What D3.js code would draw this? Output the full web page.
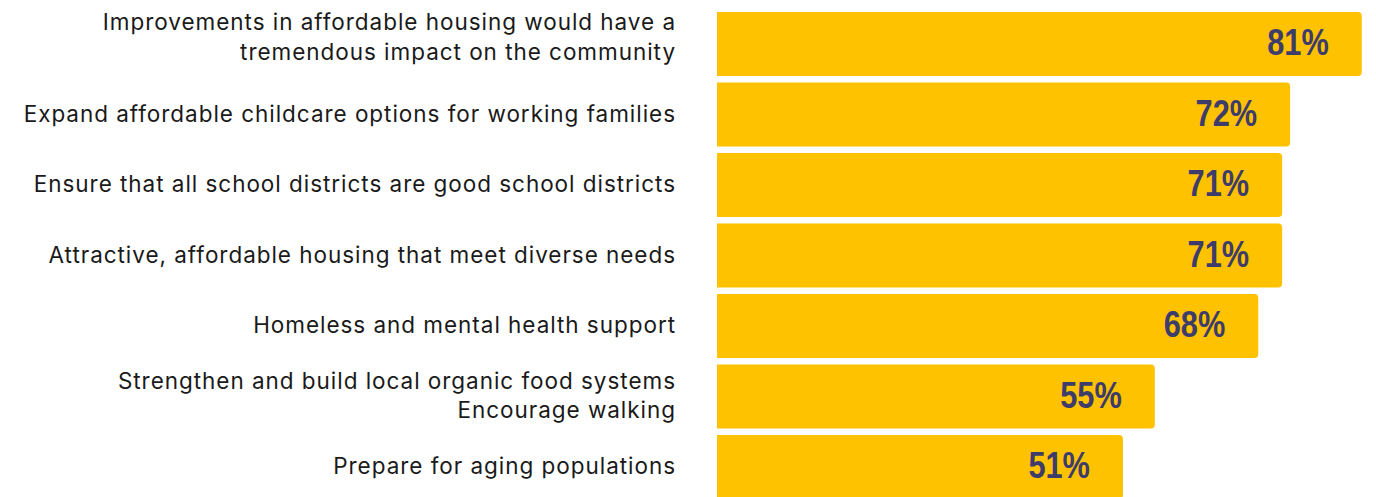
<!DOCTYPE html>
<html>
<head>
<meta charset="utf-8">
<script src="https://cdn.jsdelivr.net/npm/d3@7"></script>
<style>
  html, body { margin: 0; padding: 0; background: #fff; }
  svg { display: block; }
</style>
</head>
<body>
<svg width="1376" height="497"></svg>
<script>
// survey answers, top to bottom
let categories = [
  ["Improvements in affordable housing would have a", "tremendous impact on the community"],
  ["Expand affordable childcare options for working families"],
  ["Ensure that all school districts are good school districts"],
  ["Attractive, affordable housing that meet diverse needs"],
  ["Homeless and mental health support"],
  ["Strengthen and build local organic food systems", "Encourage walking"],
  ["Prepare for aging populations"]
];
let values = [81, 72, 71, 71, 68, 55, 51];
let valueLabels = ["81%", "72%", "71%", "71%", "68%", "55%", "51%"];

let svg = d3.select("svg");
let barColor = "#FEC200";
let textColor = "#3d3c6b";

let x = d3.scaleLinear()
  .domain([0, 100])
  .range([717, 1513]);

let y = d3.scaleBand()
  .domain(d3.range(values.length))
  .range([8.76, 502.26])
  .paddingInner(0.092)
  .paddingOuter(0.046);

// bar with rounded right corners only
function barPath(x0, y0, w, h, r) {
  return "M" + x0 + "," + y0 +
    "H" + (x0 + w - r) +
    "Q" + (x0 + w) + "," + y0 + " " + (x0 + w) + "," + (y0 + r) +
    "V" + (y0 + h - r) +
    "Q" + (x0 + w) + "," + (y0 + h) + " " + (x0 + w - r) + "," + (y0 + h) +
    "H" + x0 + "Z";
}

let rows = svg.selectAll("g.row")
  .data(values)
  .enter()
  .append("g")
  .attr("class", "row");

rows.append("path")
  .attr("d", function(d, i) {
    return barPath(x(0), y(i), x(d) - x(0), y.bandwidth(), 4);
  })
  .attr("fill", barColor);

// no narrow font installed, so squeeze the bold one
rows.append("text")
  .attr("transform", function(d, i) {
    return "translate(" + (x(d) - 33) + "," + (y(i) + y.bandwidth() / 2 - 2.5) + ") scale(0.82,1)";
  })
  .attr("dy", "0.36em")
  .attr("text-anchor", "end")
  .style("font-family", "'Liberation Sans', Arial, sans-serif")
  .style("font-weight", "bold")
  .style("font-size", "37.5px")
  .style("fill", textColor)
  .text(function(d, i) { return valueLabels[i]; });

let lineH = 29.5;
let labels = rows.append("text")
  .attr("text-anchor", "end")
  .style("font-family", "Inter, sans-serif")
  .style("font-size", "22.5px")
  .style("letter-spacing", "0.96px")
  .style("fill", "#1a1a1a");

labels.each(function(d, i) {
  let lines = categories[i];
  let cy = y(i) + y.bandwidth() / 2;
  let first = cy - (lines.length - 1) * lineH / 2;
  if (i === 0) first -= 6; // the wrapped label sits a bit high in the original
  d3.select(this).selectAll("tspan")
    .data(lines)
    .enter()
    .append("tspan")
    .attr("x", 676)
    .attr("y", function(l, j) { return first + j * lineH + 7; })
    .text(function(l) { return l; });
});
</script>
</body>
</html>
